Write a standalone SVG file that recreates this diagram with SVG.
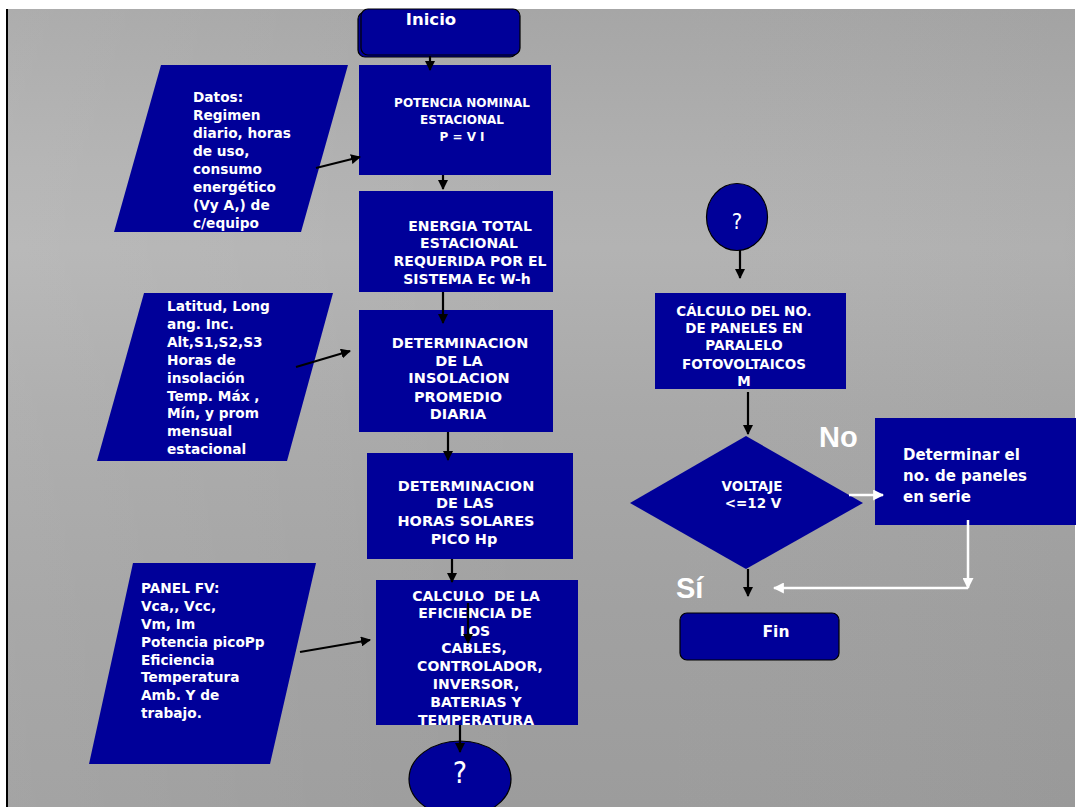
<svg xmlns="http://www.w3.org/2000/svg" width="1076" height="807" viewBox="0 0 1076 807">
  <defs>
    <linearGradient id="sky" x1="0" y1="0" x2="0" y2="1">
      <stop offset="0" stop-color="#a6a6a6"/>
      <stop offset="0.2" stop-color="#b0b0b0"/>
      <stop offset="0.3" stop-color="#b3b3b3"/>
      <stop offset="0.5" stop-color="#a9a9a9"/>
      <stop offset="0.75" stop-color="#a1a1a1"/>
      <stop offset="1" stop-color="#9c9c9c"/>
    </linearGradient>
    <linearGradient id="side" x1="0" y1="0" x2="1" y2="0">
      <stop offset="0" stop-color="#ffffff" stop-opacity="0.08"/>
      <stop offset="0.5" stop-color="#ffffff" stop-opacity="0"/>
      <stop offset="1" stop-color="#000000" stop-opacity="0.02"/>
    </linearGradient>
    <marker id="ah" viewBox="0 0 10 10" refX="9" refY="5" markerWidth="10" markerHeight="10" markerUnits="userSpaceOnUse" orient="auto">
      <path d="M0,0 L10,5 L0,10 Z" fill="#000"/>
    </marker>
    <marker id="ahw" viewBox="0 0 10 10" refX="9" refY="5" markerWidth="11" markerHeight="11" markerUnits="userSpaceOnUse" orient="auto">
      <path d="M0,0 L10,5 L0,10 Z" fill="#fff"/>
    </marker>
    <style>
      .box { fill: #000099; }
      .term { fill: #000099; stroke: #000; stroke-width: 1.2; }
      .t { font-family: "DejaVu Sans", Verdana, sans-serif; font-weight: bold; fill: #fff; }
      .c { text-anchor: middle; }
      .s12 { font-size: 12px; }
      .s13 { font-size: 13.5px; }
      .s14 { font-size: 14px; }
      .s145 { font-size: 14.5px; }
      .s15 { font-size: 15px; }
      .p { font-size: 13.7px; }
      .big { font-family: "Liberation Sans", Arial, sans-serif; font-weight: bold; fill: #fff; font-size: 29px; }
      .q { font-family: "Liberation Sans Narrow", "DejaVu Sans Condensed", "Liberation Sans", sans-serif; font-stretch: condensed; fill: #fff; text-anchor: middle; }
      .ln { stroke: #000; stroke-width: 2.2; fill: none; }
      .lnw { stroke: #fff; stroke-width: 2.5; fill: none; }
    </style>
  </defs>

  <!-- page -->
  <rect x="0" y="0" width="1076" height="807" fill="#fff"/>
  <rect x="8" y="9" width="1067" height="798" fill="url(#sky)"/>
  <rect x="8" y="9" width="1067" height="798" fill="url(#side)"/>
  <line x1="7" y1="9" x2="7" y2="807" stroke="#000" stroke-width="2"/>

  <!-- left column -->
  <g id="inicio">
    <rect class="term" x="358" y="12" width="159" height="45" rx="7"/>
    <rect class="term" x="361" y="9" width="159" height="46" rx="7"/>
    <text class="t c" style="font-size:16.5px" x="431" y="25">Inicio</text>
  </g>

  <g id="potencia">
    <rect class="box" x="359" y="65" width="192" height="110"/>
    <text class="t c s12" x="462" y="107">POTENCIA NOMINAL</text>
    <text class="t c s12" x="462" y="124">ESTACIONAL</text>
    <text class="t c s12" x="462" y="141">P = V I</text>
  </g>

  <g id="datos">
    <polygon class="box" points="161,65 348,65 301,232 114,232"/>
    <text class="t p">
      <tspan x="193" y="102">Datos:</tspan>
      <tspan x="193" y="120">Regimen</tspan>
      <tspan x="193" y="138">diario, horas</tspan>
      <tspan x="193" y="156">de uso,</tspan>
      <tspan x="193" y="174">consumo</tspan>
      <tspan x="193" y="192">energético</tspan>
      <tspan x="193" y="210">(Vy A,) de</tspan>
      <tspan x="193" y="228">c/equipo</tspan>
    </text>
  </g>

  <g id="energia">
    <rect class="box" x="359" y="191" width="194" height="101"/>
    <text class="t c s14" x="470" y="231">ENERGIA TOTAL</text>
    <text class="t c s14" x="469" y="248">ESTACIONAL</text>
    <text class="t c s14" x="470" y="266">REQUERIDA POR EL</text>
    <text class="t c s14" x="467" y="284">SISTEMA Ec W-h</text>
  </g>

  <g id="latitud">
    <polygon class="box" points="144,293 333,293 287,461 97,461"/>
    <text class="t p">
      <tspan x="167" y="311">Latitud, Long</tspan>
      <tspan x="167" y="329">ang. Inc.</tspan>
      <tspan x="167" y="347">Alt,S1,S2,S3</tspan>
      <tspan x="167" y="365">Horas de</tspan>
      <tspan x="167" y="383">insolación</tspan>
      <tspan x="167" y="401">Temp. Máx ,</tspan>
      <tspan x="167" y="418">Mín, y  prom</tspan>
      <tspan x="167" y="436">mensual</tspan>
      <tspan x="167" y="454">estacional</tspan>
    </text>
  </g>

  <g id="insolacion">
    <rect class="box" x="359" y="310" width="194" height="122"/>
    <text class="t c s145" x="460" y="348">DETERMINACION</text>
    <text class="t c s145" x="459" y="366">DE LA</text>
    <text class="t c s145" x="459" y="383">INSOLACION</text>
    <text class="t c s145" x="458" y="402">PROMEDIO</text>
    <text class="t c s145" x="458" y="419">DIARIA</text>
  </g>

  <g id="horas">
    <rect class="box" x="367" y="453" width="206" height="106"/>
    <text class="t c s145" x="466" y="491">DETERMINACION</text>
    <text class="t c s145" x="465" y="508">DE LAS</text>
    <text class="t c s145" x="466" y="526">HORAS SOLARES</text>
    <text class="t c s145" x="464" y="544">PICO Hp</text>
  </g>

  <g id="panel">
    <polygon class="box" points="133,563 316,563 270,764 89,764"/>
    <text class="t p">
      <tspan x="141" y="593">PANEL FV:</tspan>
      <tspan x="141" y="611">Vca,, Vcc,</tspan>
      <tspan x="141" y="629">Vm, Im</tspan>
      <tspan x="141" y="647">Potencia picoPp</tspan>
      <tspan x="141" y="665">Eficiencia</tspan>
      <tspan x="141" y="682">Temperatura</tspan>
      <tspan x="141" y="700">Amb. Y de</tspan>
      <tspan x="141" y="718">trabajo.</tspan>
    </text>
  </g>

  <g id="calculo">
    <rect class="box" x="376" y="580" width="202" height="145"/>
    <text class="t c s14" x="476" y="601">CALCULO&#160; DE LA</text>
    <text class="t c s14" x="475" y="618">EFICIENCIA DE</text>
    <text class="t c s14" x="475" y="636">LOS</text>
    <text class="t c s14" x="474" y="653">CABLES,</text>
    <text class="t c s14" x="480" y="671">CONTROLADOR,</text>
    <text class="t c s14" x="476" y="689">INVERSOR,</text>
    <text class="t c s14" x="476" y="707">BATERIAS Y</text>
    <text class="t c s14" x="476" y="725">TEMPERATURA</text>
  </g>

  <g id="conector-a">
    <ellipse class="term" cx="460" cy="779" rx="51" ry="38"/>
    <text class="q" style="font-size:30px" x="460" y="783">?</text>
  </g>

  <!-- right column -->
  <g id="conector-b">
    <ellipse class="term" cx="737" cy="217" rx="30.5" ry="33.5"/>
    <text class="q" style="font-size:22px" x="737" y="229">?</text>
  </g>

  <g id="paralelo">
    <rect class="box" x="655" y="293" width="191" height="96"/>
    <text class="t c s13" x="744" y="316">CÁLCULO DEL NO.</text>
    <text class="t c s13" x="744" y="333">DE PANELES EN</text>
    <text class="t c s13" x="744" y="350">PARALELO</text>
    <text class="t c s13" x="744" y="369">FOTOVOLTAICOS</text>
    <text class="t c s13" x="744" y="386">M</text>
  </g>

  <g id="voltaje">
    <polygon class="box" points="746,436 863,503 746,569 630,503"/>
    <text class="t c s13" x="752" y="491">VOLTAJE</text>
    <text class="t c s13" x="753" y="508">&lt;=12 V</text>
  </g>

  <g id="serie">
    <rect class="box" x="875" y="418" width="201" height="107"/>
    <text class="t s15">
      <tspan x="903" y="460">Determinar el</tspan>
      <tspan x="903" y="481">no. de paneles</tspan>
      <tspan x="903" y="502">en serie</tspan>
    </text>
  </g>

  <g id="fin">
    <rect class="term" x="680" y="613" width="159" height="47" rx="7"/>
    <text class="t c" style="font-size:15.5px" x="776" y="637">Fin</text>
  </g>

  <text class="big" x="819" y="447">No</text>
  <text class="big" x="676" y="598">Sí</text>

  <!-- connectors -->
  <g id="connectors">
    <line class="ln" x1="430" y1="56" x2="430" y2="70" marker-end="url(#ah)"/>
    <line class="ln" x1="443" y1="175" x2="443" y2="189" marker-end="url(#ah)"/>
    <line class="ln" x1="443" y1="292" x2="443" y2="323" marker-end="url(#ah)"/>
    <line class="ln" x1="448" y1="432" x2="448" y2="460" marker-end="url(#ah)"/>
    <line class="ln" x1="452" y1="559" x2="452" y2="582" marker-end="url(#ah)"/>
    <line class="ln" x1="468" y1="603" x2="468" y2="643" marker-end="url(#ah)"/>
    <line class="ln" x1="460" y1="725" x2="460" y2="752" marker-end="url(#ah)"/>

    <line class="ln" x1="316" y1="168" x2="360" y2="157" marker-end="url(#ah)"/>
    <line class="ln" x1="296" y1="367" x2="350" y2="351" marker-end="url(#ah)"/>
    <line class="ln" x1="300" y1="652" x2="370" y2="640" marker-end="url(#ah)"/>

    <line class="ln" x1="740" y1="250" x2="740" y2="278" marker-end="url(#ah)"/>
    <line class="ln" x1="748" y1="392" x2="748" y2="434" marker-end="url(#ah)"/>
    <line class="ln" x1="748" y1="569" x2="748" y2="596" marker-end="url(#ah)"/>

    <line class="lnw" x1="849" y1="495" x2="883" y2="495" marker-end="url(#ahw)"/>
    <line class="lnw" x1="968" y1="520" x2="968" y2="588" marker-end="url(#ahw)"/>
    <line class="lnw" x1="968" y1="588" x2="774" y2="588" marker-end="url(#ahw)"/>
  </g>
</svg>
